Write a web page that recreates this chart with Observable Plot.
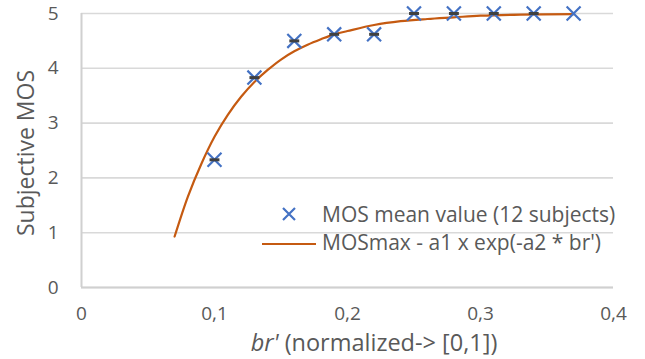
<!DOCTYPE html>
<html>
<head>
<meta charset="utf-8">
<script src="https://cdn.jsdelivr.net/npm/d3@7"></script>
<script src="https://cdn.jsdelivr.net/npm/@observablehq/plot@0.6"></script>
<style>
  html, body { margin: 0; padding: 0; background: #fff; }
  #wrap { position: relative; width: 645px; height: 359px; font-family: "Open Sans", Lato, sans-serif; color: #595959; }
  .ovl { position: absolute; white-space: nowrap; }
</style>
</head>
<body>
<div id="wrap"></div>
<script>
// ---- data ----
const brValues  = [0.10, 0.13, 0.16, 0.19, 0.22, 0.25, 0.28, 0.31, 0.34, 0.37];
const mosValues = [2.33, 3.83, 4.50, 4.62, 4.62, 5.00, 5.00, 5.00, 5.00, 5.00];
const hasDash   = [true, true, true, true, true, true, true, true, true, false];
const fitBr  = [0.07, 0.08, 0.09, 0.10, 0.11, 0.12, 0.13, 0.14, 0.15, 0.16, 0.17, 0.18, 0.19, 0.20, 0.22, 0.24, 0.26, 0.28, 0.30, 0.33, 0.37];
const fitMos = [0.93, 1.66, 2.25, 2.75, 3.15, 3.48, 3.75, 3.97, 4.16, 4.31, 4.43, 4.53, 4.62, 4.68, 4.79, 4.86, 4.90, 4.93, 4.96, 4.98, 4.99];
const xTicks = [0, 0.1, 0.2, 0.3, 0.4];
const yTicks = [0, 1, 2, 3, 4, 5];
const legendLabels = ["MOS mean value (12 subjects)", "MOSmax - a1 x exp(-a2 * br')"];
const yTitle = "Subjective MOS";
const xTitleItalic = "br'";
const xTitleRest = " (normalized-> [0,1])";

const points = brValues.map((x, i) => ({x, y: mosValues[i], dash: hasDash[i]}));
const fit = fitBr.map((x, i) => ({x, y: fitMos[i]}));

const BLUE = "#4472C4", ORANGE = "#C55A11", GRID = "#D9D9D9", TEXT = "#595959";

const dashSymbol = {
  draw(ctx, size) {
    const w = Math.sqrt(size) / 2;
    ctx.moveTo(-w, 0); ctx.lineTo(w, 0);
  }
};

const fmt = d => String(d).replace(".", ",");

const chart = Plot.plot({
  width: 645,
  height: 359,
  marginLeft: 81,
  marginRight: 32,
  marginTop: 13,
  marginBottom: 72,
  style: {fontFamily: "'Open Sans', Lato, sans-serif", fontSize: "19px", color: TEXT, background: "white"},
  x: {domain: [0, 0.4]},
  y: {domain: [0, 5]},
  marks: [
    Plot.gridY(yTicks, {stroke: GRID, strokeOpacity: 1, strokeWidth: 1.6}),
    Plot.axisX(xTicks, {tickSize: 0, tickPadding: 19, tickFormat: fmt, label: null, fill: TEXT, fontSize: 19}),
    Plot.axisY(yTicks, {tickSize: 0, tickPadding: 23, tickFormat: fmt, label: null, fill: TEXT, fontSize: 19}),
    Plot.ruleY([0], {stroke: "#D0D0D0", strokeWidth: 2}),
    Plot.ruleX([0], {stroke: "#D0D0D0", strokeWidth: 2}),
    Plot.line(fit, {x: "x", y: "y", stroke: ORANGE, strokeWidth: 2.2, curve: "catmull-rom"}),
    Plot.dot(points, {x: "x", y: "y", symbol: "times", r: 6.4, stroke: BLUE, strokeWidth: 2.2}),
    Plot.dot(points.filter(d => d.dash), {x: "x", y: "y", symbol: dashSymbol, r: 5.6, stroke: "#404040", strokeWidth: 3})
  ]
});

const wrap = document.getElementById("wrap");
wrap.appendChild(chart);

// y-axis title
const yt = document.createElement("div");
yt.className = "ovl";
yt.textContent = yTitle;
yt.style.cssText += "font-size:23px;line-height:26px;left:25px;top:153px;transform:translate(-50%,-50%) rotate(-90deg);";
wrap.appendChild(yt);

// x-axis title
const xt = document.createElement("div");
xt.className = "ovl";
xt.innerHTML = "<i>" + xTitleItalic + "</i>" + xTitleRest;
xt.style.cssText += "font-size:23.5px;line-height:22px;left:374px;top:342px;transform:translate(-50%,-50%);";
wrap.appendChild(xt);

// legend
const lg = document.createElement("div");
lg.className = "ovl";
lg.style.cssText += "left:262px;top:200px;font-size:21px;line-height:28px;";
lg.innerHTML =
  `<div style="display:flex;align-items:center"><span style="display:inline-block;width:54px;text-align:center;margin-right:6px;line-height:0">
     <svg width="16" height="16" viewBox="-8 -8 16 16"><path d="M-6,-6L6,6M-6,6L6,-6" stroke="${BLUE}" stroke-width="2.2"/></svg></span>${legendLabels[0]}</div>
   <div style="display:flex;align-items:center"><span style="display:inline-block;width:54px;margin-right:6px;line-height:0"><svg width="54" height="4"><line x1="0" y1="2" x2="54" y2="2" stroke="${ORANGE}" stroke-width="2.2"/></svg></span>${legendLabels[1]}</div>`;
wrap.appendChild(lg);
</script>
</body>
</html>
